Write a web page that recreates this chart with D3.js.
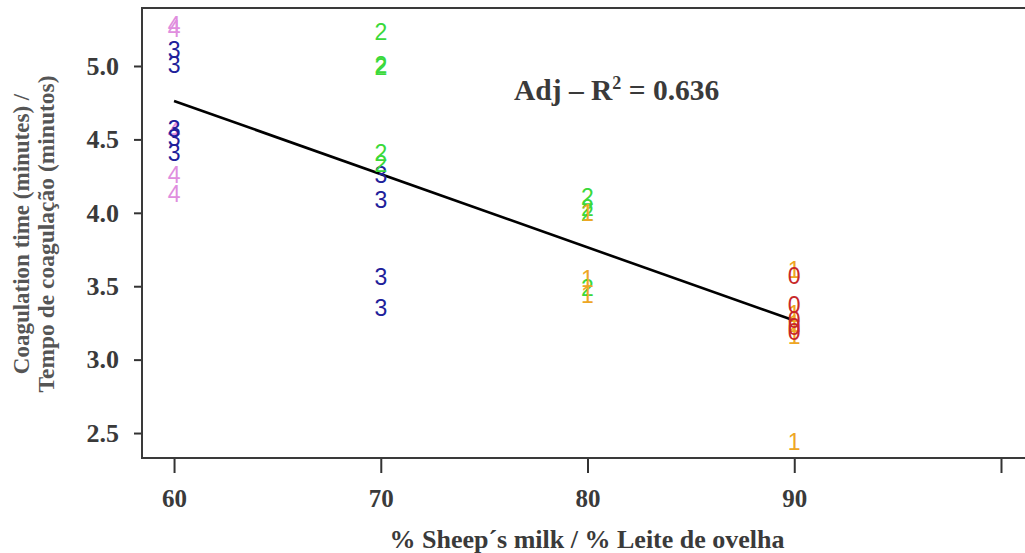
<!DOCTYPE html>
<html>
<head>
<meta charset="utf-8">
<script src="https://cdn.jsdelivr.net/npm/d3@7"></script>
<style>
  html, body { margin: 0; padding: 0; background: #fff; }
  svg { display: block; }
</style>
</head>
<body>
<svg id="chart" width="1025" height="553"></svg>
<script>
// ---- data ----
const xTicks = [60, 70, 80, 90, 100];
const xTickLabels = ["60", "70", "80", "90", ""];
const yTicks = [2.5, 3.0, 3.5, 4.0, 4.5, 5.0];
const yTickLabels = ["2.5", "3.0", "3.5", "4.0", "4.5", "5.0"];

// group "4"
const g4x = [60, 60, 60, 60, 60];
const g4y = [5.28, 5.25, 4.56, 4.26, 4.13];
// group "3"
const g3x = [60, 60, 60, 60, 60, 70, 70, 70, 70];
const g3y = [5.11, 5.01, 4.57, 4.51, 4.41, 4.26, 4.09, 3.56, 3.35];
// group "2"
const g2x = [70, 70, 70, 70, 70, 80, 80, 80, 80];
const g2y = [5.23, 5.01, 4.99, 4.41, 4.33, 4.11, 4.03, 4.00, 3.49];
// group "1"
const g1x = [80, 80, 80, 90, 90, 90, 90, 90];
const g1y = [4.00, 3.55, 3.44, 3.61, 3.31, 3.24, 3.16, 2.44];
// group "0"
const g0x = [90, 90, 90, 90, 90];
const g0y = [3.57, 3.37, 3.27, 3.22, 3.19];

const groupLabels = ["0", "1", "2", "3", "4"];
const groupColors = ["#c8282a", "#eea623", "#3ad93a", "#20209a", "#e08ede"];

// fitted line
const fitX = [60, 90];
const fitY = [4.762, 3.266];

const xTitle = "% Sheep\u00b4s milk / % Leite de ovelha";
const yTitle1 = "Coagulation time (minutes) /";
const yTitle2 = "Tempo de coagula\u00e7\u00e3o (minutos)";

// ---- drawing ----
const svg = d3.select("#chart");
const serif = "'Liberation Serif', 'Times New Roman', serif";
const sans = "'Liberation Sans', Arial, sans-serif";

const x = d3.scaleLinear().domain([58.45, 101.5]).range([142, 1032]);
const y = d3.scaleLinear().domain([2.33, 5.395]).range([458, 8]);

// box
svg.append("rect")
  .attr("x", x.range()[0]).attr("y", y.range()[1])
  .attr("width", x.range()[1] - x.range()[0])
  .attr("height", y.range()[0] - y.range()[1])
  .attr("fill", "none").attr("stroke", "#3a3a3a").attr("stroke-width", 2);

// x axis
const xAxis = d3.axisBottom(x).tickValues(xTicks)
  .tickFormat((d, i) => xTickLabels[i]).tickSize(14).tickSizeOuter(0).tickPadding(16);
const gx = svg.append("g").attr("transform", `translate(0,${y.range()[0] + 1})`).call(xAxis);
gx.select(".domain").remove();
gx.selectAll(".tick line").attr("stroke", "#333").attr("stroke-width", 2);
gx.selectAll(".tick text").attr("font-family", serif).attr("font-weight", "bold")
  .attr("font-size", 25).attr("fill", "#3a3a3a");

// y axis
const yAxis = d3.axisLeft(y).tickValues(yTicks)
  .tickFormat((d, i) => yTickLabels[i]).tickSize(7).tickSizeOuter(0).tickPadding(15);
const gy = svg.append("g").attr("transform", `translate(${x.range()[0] - 1},0)`).call(yAxis);
gy.select(".domain").remove();
gy.selectAll(".tick line").attr("stroke", "#333").attr("stroke-width", 2);
gy.selectAll(".tick text").attr("font-family", serif).attr("font-weight", "bold")
  .attr("font-size", 26).attr("fill", "#3a3a3a");

// fit line
const fitData = fitX.map((v, i) => [v, fitY[i]]);
svg.append("path").datum(fitData)
  .attr("d", d3.line().x(d => x(d[0])).y(d => y(d[1])))
  .attr("stroke", "#000").attr("stroke-width", 2.6).attr("fill", "none");

// point labels
const groups = [[g0x, g0y], [g1x, g1y], [g2x, g2y], [g3x, g3y], [g4x, g4y]];
const drawOrder = [4, 3, 2, 1, 0];
drawOrder.forEach(gi => {
  const [gxs, gys] = groups[gi];
  const pts = gxs.map((v, i) => ({ x: v, y: gys[i] }));
  svg.append("g").selectAll("text").data(pts).join("text")
    .attr("x", d => x(d.x)).attr("y", d => y(d.y))
    .attr("text-anchor", "middle").attr("dominant-baseline", "central")
    .attr("font-family", sans).attr("font-size", 23)
    .attr("fill", groupColors[gi]).text(groupLabels[gi]);
});

// annotation
const ann = svg.append("text").attr("x", 514).attr("y", 100)
  .attr("font-family", serif).attr("font-weight", "bold").attr("font-size", 29.5)
  .attr("fill", "#3a3a3a");
ann.append("tspan").text("Adj \u2013 R");
ann.append("tspan").attr("font-size", 18).attr("dy", -11).text("2");
ann.append("tspan").attr("dy", 11).text(" = 0.636");

// x title
svg.append("text").attr("x", 587).attr("y", 548).attr("text-anchor", "middle")
  .attr("font-family", serif).attr("font-weight", "bold").attr("font-size", 26)
  .attr("fill", "#3a3a3a").text(xTitle);

// y title
const yc = 234;
svg.append("text").attr("transform", `translate(29,${yc}) rotate(-90)`).attr("text-anchor", "middle")
  .attr("font-family", serif).attr("font-weight", "bold").attr("font-size", 23)
  .attr("fill", "#555").text(yTitle1);
svg.append("text").attr("transform", `translate(54,${yc}) rotate(-90)`).attr("text-anchor", "middle")
  .attr("font-family", serif).attr("font-weight", "bold").attr("font-size", 23.5)
  .attr("fill", "#555").text(yTitle2);
</script>
</body>
</html>
